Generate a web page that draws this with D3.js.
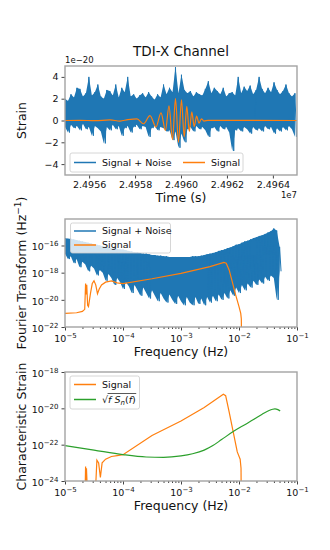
<!DOCTYPE html>
<html>
<head>
<meta charset="utf-8">
<script src="https://cdn.jsdelivr.net/npm/d3@7"></script>
<style>
body { margin: 0; background: #fff; }
svg { font-family: "DejaVu Sans", sans-serif; }
</style>
</head>
<body>
<svg id="chart" width="330" height="550"></svg>
<script>
// ---- panel 1: strain time series (units of 1e-20) ----
var t0 = 24954950, dt = 130;   // sampling of the drawn noise columns
var noiseHi = [2.0,1.8,2.4,2.1,3.0,2.9,2.2,2.5,4.0,2.3,2.6,3.3,2.2,2.0,2.8,2.7,2.3,3.3,2.1,3.0,
               2.6,4.0,2.2,2.4,2.0,2.3,2.5,2.1,2.6,2.2,1.9,2.4,2.1,3.3,2.4,3.0,2.6,4.9,2.5,4.2,
               2.8,2.5,2.7,2.2,2.6,2.4,2.3,2.9,3.6,2.5,3.0,2.7,2.4,3.0,2.2,2.5,2.6,2.3,4.0,2.5,
               3.1,2.7,3.2,2.4,2.8,4.0,2.9,2.5,3.0,2.6,3.5,2.8,2.4,2.7,3.3,2.5,2.2,2.5];
var noiseLo = [-0.6,-1.1,-0.4,-0.7,-0.5,-0.9,-0.3,-0.8,-0.6,-1.4,-0.5,-0.7,-1.0,-2.1,-0.6,-0.9,-0.4,-0.8,-0.5,-1.4,
               -0.7,-0.5,-1.1,-0.6,-0.4,-0.8,-0.5,-0.6,-1.5,-0.7,-0.5,-0.9,-0.6,-0.7,-1.0,-0.9,-1.8,-1.0,-2.5,-1.2,
               -2.0,-0.8,-0.6,-1.0,-0.5,-0.8,-0.6,-0.9,-1.5,-0.7,-0.6,-1.0,-0.5,-0.8,-0.6,-1.1,-2.8,-0.9,-0.7,-1.0,
               -0.6,-0.8,-1.2,-0.6,-0.9,-0.7,-1.0,-0.5,-0.8,-0.6,-1.2,-0.7,-1.0,-0.6,-0.9,-0.5,-0.8,-1.5];
var sigTime = [24954950,24955603,24956256,24956909,24957344,24957692,24958084,24958367,24958650,24958911,
               24959129,24959325,24959477,24959630,24959760,24959891,24960021,24960139,24960252,24960361,
               24960470,24960574,24960679,24960783,24960887,24961001,24961175,24965050];
var sigStrain = [0,0.02,-0.02,0.05,-0.05,0.08,0.15,-0.3,0.45,-0.6,
                 0.7,-0.9,1.35,-1.75,2.0,-2.0,1.9,-1.5,1.3,-1.0,
                 0.8,-0.55,0.4,-0.25,0.15,-0.05,0.02,0];
var timeTicks = [24956000,24958000,24960000,24962000,24964000];
var strainTicks = [-4,-2,0,2,4];

// ---- panel 2: Fourier transform, log10 values ----
var fftLogStart = -5.0, fftLogStep = 0.05;
var fftHi = [-15.45,-15.5,-15.5,-15.55,-15.6,-15.65,-15.7,-15.75,-15.8,-15.85,
             -15.9,-15.95,-16.0,-16.05,-16.1,-16.15,-16.2,-16.2,-16.25,-16.3,
             -16.3,-16.35,-16.4,-16.45,-16.5,-16.5,-16.55,-16.6,-16.6,-16.65,
             -16.7,-16.7,-16.75,-16.75,-16.8,-16.8,-16.85,-16.85,-16.85,-16.85,
             -16.85,-16.85,-16.85,-16.85,-16.8,-16.8,-16.8,-16.75,-16.7,-16.65,
             -16.6,-16.55,-16.5,-16.4,-16.35,-16.3,-16.2,-16.15,-16.05,-15.95,
             -15.9,-15.8,-15.7,-15.65,-15.55,-15.45,-15.4,-15.3,-15.25,-15.15,
             -15.05,-14.95,-14.75,-14.9,-16.1];
var fftLo = [-16.6,-17.0,-16.8,-17.3,-17.0,-17.6,-17.2,-17.4,-17.9,-17.5,
             -17.7,-18.2,-17.8,-18.0,-18.6,-18.1,-18.4,-18.9,-18.4,-18.7,
             -19.2,-18.7,-19.0,-19.5,-18.9,-19.3,-19.7,-19.1,-19.5,-19.9,
             -19.3,-19.7,-20.1,-19.5,-19.9,-20.2,-19.6,-20.0,-20.3,-19.7,
             -20.1,-20.4,-19.8,-20.2,-20.4,-19.8,-20.3,-19.9,-20.4,-19.8,
             -20.2,-19.7,-20.1,-19.6,-20.0,-19.5,-19.9,-19.3,-19.7,-19.1,
             -19.5,-18.9,-19.3,-18.8,-19.1,-18.6,-18.9,-18.5,-18.8,-18.3,
             -18.6,-18.2,-18.4,-20.0,-17.9];
var ftSigLogF = [-5.0,-4.8,-4.7,-4.66,-4.645,-4.635,-4.625,-4.61,-4.595,-4.56,
                 -4.53,-4.5,-4.47,-4.44,-4.41,-4.37,-4.3,-4.2,-4.1,-4.0,
                 -3.5,-3.0,-2.5,-2.26,-2.22,-2.17,-2.12,-2.06,-2.0,-1.97,-1.96,-1.955];
var ftSigLogA = [-21.0,-20.95,-20.85,-20.7,-18.8,-19.6,-18.9,-20.4,-20.5,-19.5,
                 -18.8,-18.6,-18.9,-19.55,-19.2,-18.9,-18.7,-18.6,-18.75,-18.8,
                 -18.45,-18.05,-17.55,-17.25,-17.3,-17.8,-18.6,-19.6,-20.5,-21.0,-21.4,-23.5];

// ---- panel 3: characteristic strain, log10 values ----
var hcLogF = [-4.7,-4.655,-4.645,-4.64,-4.63,-4.615,-4.6,-4.5,-4.47,-4.45,
              -4.42,-4.39,-4.36,-4.3,-4.2,-4.1,-4.0,-3.5,-3.0,-2.6,
              -2.27,-2.23,-2.17,-2.1,-2.03,-1.98,-1.965,-1.96];
var hcLog = [-25,-24.8,-23.2,-24.3,-23.3,-24.5,-24.8,-24.5,-24.2,-22.85,
             -23.0,-23.8,-23.0,-22.8,-22.65,-22.6,-22.55,-21.5,-20.7,-19.95,
             -19.22,-19.3,-20.2,-21.3,-22.4,-22.8,-23.3,-25.5];
var noiseLogF = [-5.0,-4.5,-4.0,-3.6,-3.3,-3.0,-2.8,-2.6,-2.45,-2.3,
                 -2.1,-1.9,-1.75,-1.6,-1.5,-1.42,-1.38,-1.33,-1.29];
var noiseLogHc = [-22.05,-22.3,-22.55,-22.68,-22.7,-22.62,-22.5,-22.3,-22.05,-21.72,
                  -21.28,-20.9,-20.62,-20.32,-20.15,-20.05,-20.03,-20.07,-20.15];

var freqTicks = [1e-5,1e-4,1e-3,1e-2,1e-1];
var ftTicks = [1e-22,1e-20,1e-18,1e-16];
var hcTicks = [1e-24,1e-22,1e-20,1e-18];

var blue = "#1f77b4", orange = "#ff7f0e", green = "#2ca02c";
var svg = d3.select("#chart");
var left = 65, right = 297;
var minus = function(s) { return String(s).replace("-", "\u2212"); };

function frame(g, top, bottom) {
  g.append("rect").attr("x", left).attr("y", top)
    .attr("width", right - left).attr("height", bottom - top)
    .attr("fill", "none").attr("stroke", "#a3a3a3").attr("stroke-width", 1.4);
}

function clip(id, top, bottom) {
  svg.append("clipPath").attr("id", id).append("rect")
    .attr("x", left).attr("y", top).attr("width", right - left).attr("height", bottom - top);
}

function styleAxis(g) {
  g.select(".domain").remove();
  g.selectAll(".tick line").attr("stroke", "#444");
  g.selectAll(".tick text").attr("fill", "#111").style("font-size", "9.5px")
    .style("font-family", "DejaVu Sans");
}

function powLabel(sel, anchor) {
  sel.each(function(d) {
    var t = d3.select(this);
    var e = Math.round(Math.log10(d));
    t.text(null).attr("text-anchor", anchor);
    t.append("tspan").text("10");
    t.append("tspan").attr("dy", "-4").style("font-size", "7px").text(minus(e));
  });
}

function logXAxis(g, x, bottom) {
  var minor = [];
  for (var k = -5; k < -1; k++) for (var m = 2; m < 10; m++) minor.push(m * Math.pow(10, k));
  var gm = g.append("g").attr("transform", "translate(0," + bottom + ")")
    .call(d3.axisBottom(x).tickValues(minor).tickSize(2).tickFormat(""));
  styleAxis(gm);
  var ga = g.append("g").attr("transform", "translate(0," + bottom + ")")
    .call(d3.axisBottom(x).tickValues(freqTicks).tickSize(3.5).tickPadding(3));
  styleAxis(ga);
  ga.selectAll(".tick text").attr("dy", "0.85em").call(powLabel, "middle");
}

function logYAxis(g, y, ticks) {
  var ga = g.append("g").attr("transform", "translate(" + left + ",0)")
    .call(d3.axisLeft(y).tickValues(ticks).tickSize(3.5).tickPadding(3));
  styleAxis(ga);
  ga.selectAll(".tick text").attr("dy", "0.45em").call(powLabel, "end");
}

function yLabel(text, cy) {
  return svg.append("text").attr("transform", "translate(26," + cy + ") rotate(-90)")
    .attr("text-anchor", "middle").style("font-size", "12.5px").attr("fill", "#111").text(text);
}

function legendBox(x, y, w, h) {
  svg.append("rect").attr("x", x).attr("y", y).attr("width", w).attr("height", h)
    .attr("rx", 2).attr("fill", "#fff").attr("fill-opacity", 0.8)
    .attr("stroke", "#ccc").attr("stroke-width", 0.8);
}
function legendItem(x, y, color, label) {
  svg.append("line").attr("x1", x).attr("x2", x + 22).attr("y1", y).attr("y2", y)
    .attr("stroke", color).attr("stroke-width", 1.5);
  return svg.append("text").attr("x", x + 28).attr("y", y).attr("dy", "0.35em")
    .style("font-size", "9.5px").attr("fill", "#111").text(label);
}

// dense noisy traces: filled band between column extremes plus a zig-zag through them
function noiseBand(g, xs, hi, lo, half, fx, fy) {
  g.append("path").datum(d3.range(hi.length))
    .attr("d", d3.area()
      .x(function(i) { return fx(xs(i)); })
      .y0(function(i) { return fy(lo[i]); })
      .y1(function(i) { return fy(hi[i]); }))
    .attr("fill", blue).attr("stroke", "none");
  var pts = [];
  hi.forEach(function(v, i) {
    pts.push([xs(i), v]);
    pts.push([half(i), lo[i]]);
  });
  g.append("path").datum(pts)
    .attr("d", d3.line().x(function(d) { return fx(d[0]); }).y(function(d) { return fy(d[1]); }))
    .attr("fill", "none").attr("stroke", blue).attr("stroke-width", 1);
}

// ================= panel 1 =================
var p1Top = 66, p1Bottom = 175;
var x1 = d3.scaleLinear().domain([24954950, 24965050]).range([left, right]);
var y1 = d3.scaleLinear().domain([-5, 5]).range([p1Bottom, p1Top]);
clip("c1", p1Top, p1Bottom);

var g1 = svg.append("g").attr("clip-path", "url(#c1)");
noiseBand(g1, function(i) { return t0 + i * dt; }, noiseHi, noiseLo,
  function(i) { return t0 + i * dt + dt / 2; }, x1, y1);
g1.append("path").datum(d3.zip(sigTime, sigStrain))
  .attr("d", d3.line().curve(d3.curveMonotoneX)
    .x(function(d) { return x1(d[0]); }).y(function(d) { return y1(d[1]); }))
  .attr("fill", "none").attr("stroke", orange).attr("stroke-width", 1.2);

var ax1 = svg.append("g").attr("transform", "translate(0," + p1Bottom + ")")
  .call(d3.axisBottom(x1).tickValues(timeTicks).tickSize(3.5).tickPadding(3)
    .tickFormat(function(d) { return (d / 1e7).toFixed(4); }));
styleAxis(ax1);
var ay1 = svg.append("g").attr("transform", "translate(" + left + ",0)")
  .call(d3.axisLeft(y1).tickValues(strainTicks).tickSize(3.5).tickPadding(3)
    .tickFormat(function(d) { return minus(d); }));
styleAxis(ay1);
frame(svg, p1Top, p1Bottom);

svg.append("text").attr("x", 181).attr("y", 56).attr("text-anchor", "middle")
  .style("font-size", "13.5px").attr("fill", "#111").text("TDI-X Channel");
svg.append("text").attr("x", left).attr("y", 63).style("font-size", "8.5px")
  .attr("fill", "#111").text("1e\u221220");
svg.append("text").attr("x", right).attr("y", 198).attr("text-anchor", "end")
  .style("font-size", "8.5px").attr("fill", "#111").text("1e7");
svg.append("text").attr("x", 181).attr("y", 202).attr("text-anchor", "middle")
  .style("font-size", "12.5px").attr("fill", "#111").text("Time (s)");
yLabel("Strain", (p1Top + p1Bottom) / 2);

legendBox(70, 153, 173, 19);
legendItem(74, 162.5, blue, "Signal + Noise");
legendItem(183, 162.5, orange, "Signal");

// ================= panel 2 =================
var p2Top = 219, p2Bottom = 327;
var x2 = d3.scaleLog().domain([1e-5, 1e-1]).range([left, right]);
var y2 = d3.scaleLog().domain([1e-22, Math.pow(10, -14.05)]).range([p2Bottom, p2Top]);
clip("c2", p2Top, p2Bottom);

var g2 = svg.append("g").attr("clip-path", "url(#c2)");
noiseBand(g2, function(i) { return fftLogStart + i * fftLogStep; }, fftHi, fftLo,
  function(i) { return fftLogStart + (i + 0.5) * fftLogStep; },
  function(v) { return x2(Math.pow(10, v)); }, function(v) { return y2(Math.pow(10, v)); });
g2.append("path").datum(d3.zip(ftSigLogF, ftSigLogA))
  .attr("d", d3.line()
    .x(function(d) { return x2(Math.pow(10, d[0])); })
    .y(function(d) { return y2(Math.pow(10, d[1])); }))
  .attr("fill", "none").attr("stroke", orange).attr("stroke-width", 1.2);

logXAxis(svg.append("g"), x2, p2Bottom);
logYAxis(svg.append("g"), y2, ftTicks);
frame(svg, p2Top, p2Bottom);

svg.append("text").attr("x", 181).attr("y", 356).attr("text-anchor", "middle")
  .style("font-size", "12.5px").attr("fill", "#111").text("Frequency (Hz)");
var fl = yLabel("", (p2Top + p2Bottom) / 2);
fl.append("tspan").text("Fourier Transform (Hz");
fl.append("tspan").attr("dy", "-5").style("font-size", "9px").text("\u22121");
fl.append("tspan").attr("dy", "5").text(")");

legendBox(70.5, 223, 100, 30);
legendItem(74, 231, blue, "Signal + Noise");
legendItem(74, 245, orange, "Signal");

// ================= panel 3 =================
var p3Top = 372, p3Bottom = 481;
var x3 = d3.scaleLog().domain([1e-5, 1e-1]).range([left, right]);
var y3 = d3.scaleLog().domain([1e-24, 1e-18]).range([p3Bottom, p3Top]);
clip("c3", p3Top, p3Bottom);

var g3 = svg.append("g").attr("clip-path", "url(#c3)");
g3.append("path").datum(d3.zip(hcLogF, hcLog))
  .attr("d", d3.line()
    .x(function(d) { return x3(Math.pow(10, d[0])); })
    .y(function(d) { return y3(Math.pow(10, d[1])); }))
  .attr("fill", "none").attr("stroke", orange).attr("stroke-width", 1.2);
g3.append("path").datum(d3.zip(noiseLogF, noiseLogHc))
  .attr("d", d3.line().curve(d3.curveMonotoneX)
    .x(function(d) { return x3(Math.pow(10, d[0])); })
    .y(function(d) { return y3(Math.pow(10, d[1])); }))
  .attr("fill", "none").attr("stroke", green).attr("stroke-width", 1.2);

logXAxis(svg.append("g"), x3, p3Bottom);
logYAxis(svg.append("g"), y3, hcTicks);
frame(svg, p3Top, p3Bottom);

svg.append("text").attr("x", 181).attr("y", 510).attr("text-anchor", "middle")
  .style("font-size", "12.5px").attr("fill", "#111").text("Frequency (Hz)");
yLabel("Characteristic Strain", (p3Top + p3Bottom) / 2);

legendBox(70, 376, 69.5, 33);
legendItem(74, 384.5, orange, "Signal");
var sq = legendItem(74, 399.5, green, "");
sq.attr("dy", null).attr("y", 403);
sq.append("tspan").text("\u221a");
sq.append("tspan").style("font-style", "italic").text("f");
sq.append("tspan").text(" ");
sq.append("tspan").style("font-style", "italic").text("S");
sq.append("tspan").attr("dy", "2").style("font-size", "7px").style("font-style", "italic").text("n");
sq.append("tspan").attr("dy", "-2").text("(");
sq.append("tspan").style("font-style", "italic").text("f");
sq.append("tspan").text(")");
var sqNode = sq.node();
var rootW = sqNode.getSubStringLength(0, 1);
var totW = sqNode.getComputedTextLength();
svg.append("line").attr("x1", 102 + rootW - 0.5).attr("x2", 102 + totW + 0.5)
  .attr("y1", 393.5).attr("y2", 393.5).attr("stroke", "#111").attr("stroke-width", 0.7);
</script>
</body>
</html>
